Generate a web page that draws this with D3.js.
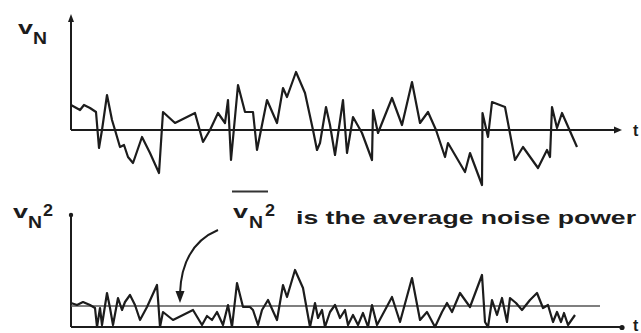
<!DOCTYPE html>
<html><head><meta charset="utf-8">
<script src="https://cdn.jsdelivr.net/npm/d3@7/dist/d3.min.js"></script>
<style>html,body{margin:0;padding:0;background:#fff;}svg{display:block;}</style>
</head><body>
<script>
// Noise voltage v_N(t)
const tN = [0,1.8,2.6,3.8,5.0,5.6,6.2,7.2,8.2,8.8,9.8,10.6,11.4,12.4,14.2,15.8,17.6,18.4,20.8,24.8,26.4,27.8,29.4,30.8,31.4,32,33.4,34.8,36.4,37.2,39.2,41.2,42.4,43.2,45,46.8,48.4,49.2,49.8,51,51.8,52.8,54.4,55.2,56.4,58.2,60.2,60.4,61.4,64.2,66.2,68.2,69.8,71.4,73,74.8,75.4,78.8,79.8,82.2,82.3,83.4,84.2,86.8,88.8,90.4,93.4,95.2,95.8,96.2,97.2,98.2,101.2];
const vN = [1.25,1.0,1.25,1.1,0.9,-0.9,0,1.75,0.5,0,-0.85,-0.75,-1.35,-1.65,-0.35,-1.15,-2.15,0.9,0.35,0.85,-0.6,0,0.85,0.35,1.5,-1.5,2.25,0.9,0.9,-1.0,1.5,0.35,2.1,1.65,2.9,1.85,0,-1.0,-0.65,1.15,0.25,-1.25,1.5,-1.15,0.65,-0.15,-1.5,1.0,-0.15,1.6,0.25,2.4,0.35,0.9,0,-1.35,-0.65,-2.1,-1.15,-2.75,0.85,-0.35,1.4,1.15,-1.5,-0.85,-1.9,-1.0,-1.35,1.15,0.1,0.85,-0.85];
// Noise power v_N^2(t)
const tP = [0,1.2,2.4,3.8,4.8,5.2,5.8,6.2,7.2,7.8,8.4,9.4,10.2,10.8,11.8,12.8,13.8,15.2,17.2,17.8,18.4,20.4,24.4,26.2,27.2,28.2,29.2,30.4,31.4,32.2,33.2,34.4,35.8,36.4,37.4,38.2,39.4,41.2,42.4,43.2,44.8,46.4,47.8,48.8,49.4,50.2,50.8,51.8,52.8,53.8,54.8,55.4,56.4,57.4,58.4,59.4,60.2,61.2,64.2,65.8,68.2,69.8,71.2,72.8,74.2,75.2,76.2,77.8,78.8,79.8,82.2,82.8,83.4,84.2,85.2,86.2,87.2,87.8,89,90.2,91.8,93.2,94.4,95.4,96.4,97.2,98,98.6,99.4,100.8];
const vP = [1.2,1.1,1.25,1.1,0.95,0,0.95,0.1,1.7,0.95,0.1,1.45,0.85,1.25,1.6,1.1,0.35,1.0,2.1,0,0.75,0.35,0.85,0.1,0.55,0.35,0.75,0.1,1.1,0,2.2,1.0,1.0,0.85,0.1,0.85,1.35,0.35,2.1,1.5,2.85,1.95,0,1.2,0.45,0.85,0,0.75,1.1,0.45,0.85,0.1,0.6,0.1,0.7,0,1.1,0.1,1.5,0.25,2.45,0.35,0.75,0,0.75,1.2,0.75,1.7,1.35,1.0,2.6,0.25,0,1.35,0.6,1.45,0.25,1.45,1.2,0.85,1.35,1.7,0.95,1.1,0.25,0.75,0.25,0.7,0.1,0.6];
const avgPower = 1.05;
const avgEnd = 105.8;
const tMax = 110.2;

const W = 641, H = 333;
const svg = d3.select("body").append("svg").attr("width", W).attr("height", H);
const ink = "#1c1c1c";

const x = d3.scaleLinear().domain([0, tMax]).range([71, 622]);
const yTop = d3.scaleLinear().domain([-3, 5.8]).range([190, 14]);
const yBot = d3.scaleLinear().domain([0, 5.7]).range([327, 213]);

// Top axes
svg.append("line").attr("x1", x(0)).attr("x2", x(0)).attr("y1", yTop(0)).attr("y2", yTop(5.6))
  .attr("stroke", ink).attr("stroke-width", 2);
svg.append("path").attr("d", `M${x(0)-3},${yTop(5.4)}L${x(0)},${yTop(5.8)}L${x(0)+3},${yTop(5.4)}Z`).attr("fill", ink);
svg.append("line").attr("x1", x(0)).attr("x2", x(tMax)-4).attr("y1", yTop(0)).attr("y2", yTop(0))
  .attr("stroke", ink).attr("stroke-width", 2);
svg.append("path").attr("d", `M${x(tMax)-8},${yTop(0)-3.5}L${x(tMax)},${yTop(0)}L${x(tMax)-8},${yTop(0)+3.5}Z`).attr("fill", ink);

// Top waveform
const lineTop = d3.line().x((d,i)=>x(tN[i])).y(d=>yTop(d));
svg.append("path").attr("d", lineTop(vN)).attr("fill","none").attr("stroke", ink)
  .attr("stroke-width", 2.2).attr("stroke-linejoin","round");

// Bottom axes
svg.append("line").attr("x1", x(0)).attr("x2", x(0)).attr("y1", yBot(0)).attr("y2", yBot(5.6))
  .attr("stroke", ink).attr("stroke-width", 2);
svg.append("circle").attr("cx", x(0)).attr("cy", yBot(5.6)).attr("r", 2.2).attr("fill", ink);
svg.append("line").attr("x1", x(0)).attr("x2", x(tMax)).attr("y1", yBot(0)).attr("y2", yBot(0))
  .attr("stroke", ink).attr("stroke-width", 2.2);
svg.append("circle").attr("cx", x(tMax)).attr("cy", yBot(0)+0.5).attr("r", 2.6).attr("fill", ink);

// Average line
svg.append("line").attr("x1", x(0)).attr("x2", x(avgEnd)).attr("y1", yBot(avgPower)).attr("y2", yBot(avgPower))
  .attr("stroke", "#555").attr("stroke-width", 1.3);

// Bottom waveform
const lineBot = d3.line().x((d,i)=>x(tP[i])).y(d=>yBot(d));
svg.append("path").attr("d", lineBot(vP)).attr("fill","none").attr("stroke", ink)
  .attr("stroke-width", 2.2).attr("stroke-linejoin","round");

// Curved arrow
svg.append("path").attr("d", "M218,230 Q182,245 180,293").attr("fill","none").attr("stroke", ink).attr("stroke-width", 2);
svg.append("path").attr("d", "M175.5,291 L180,303 L184.5,291 Z").attr("fill", ink);

const font = "'Liberation Sans', Arial, Helvetica, sans-serif";
function txt(s, xx, yy, size, len) {
  const t = svg.append("text").attr("x", xx).attr("y", yy).attr("font-family", font)
    .attr("font-weight", "bold").attr("font-size", size).attr("fill", ink).text(s);
  if (len) t.attr("textLength", len).attr("lengthAdjust", "spacingAndGlyphs");
  return t;
}
// top label v_N
txt("v", 18, 34, 19, 15);
txt("N", 33, 44, 16, 14);
// bottom left label v_N^2
txt("v", 13, 218, 19, 15);
txt("N", 28, 228, 16, 14);
txt("2", 43, 216, 16, 10);
// middle label with overbar
svg.append("line").attr("x1", 232).attr("x2", 268).attr("y1", 191.5).attr("y2", 191.5).attr("stroke", "#333").attr("stroke-width", 2);
txt("v", 233, 218, 19, 15);
txt("N", 249, 228, 16, 14);
txt("2", 265, 216, 16, 10);
txt("is the average noise power", 296, 224, 19, 340);
// time axis labels at the right edge
txt("t", 633, 136, 16);
txt("t", 633, 331, 16);
</script>
</body></html>
